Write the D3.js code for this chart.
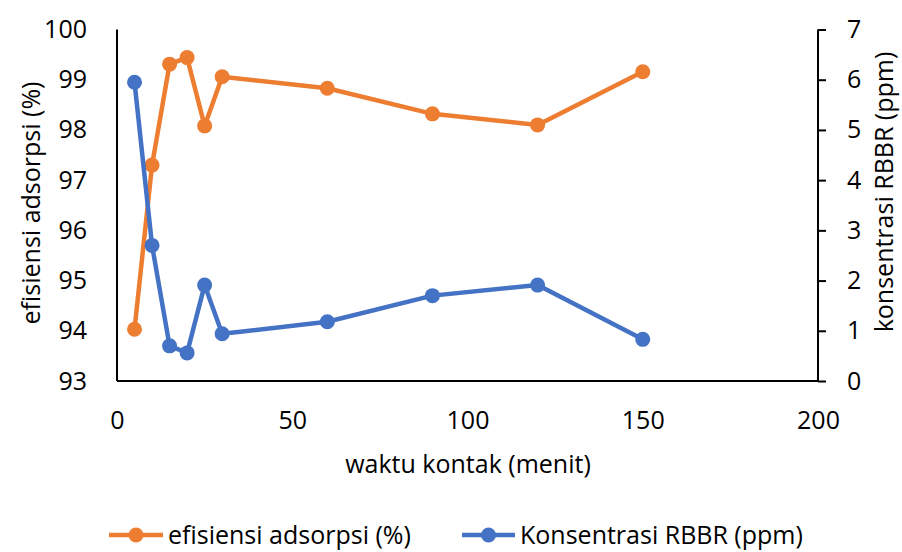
<!DOCTYPE html>
<html>
<head>
<meta charset="utf-8">
<script src="https://cdn.jsdelivr.net/npm/d3@7"></script>
<style>
  html, body { margin: 0; padding: 0; background: #fff; }
  svg { display: block; }
  text { font-family: "Open Sans", "Noto Sans", sans-serif; fill: #000; }
</style>
</head>
<body>
<svg id="chart" width="902" height="552"></svg>
<script>
const waktu = [5, 10, 15, 20, 25, 30, 60, 90, 120, 150];
const efisiensi = [94.03, 97.30, 99.31, 99.44, 98.08, 99.06, 98.83, 98.32, 98.10, 99.16];
const konsentrasi = [5.95, 2.70, 0.70, 0.56, 1.91, 0.94, 1.18, 1.70, 1.91, 0.83];
const xTicks = [0, 50, 100, 150, 200];
const leftTicks = [93, 94, 95, 96, 97, 98, 99, 100];
const rightTicks = [0, 1, 2, 3, 4, 5, 6, 7];
const seriesNames = ["efisiensi adsorpsi (%)", "Konsentrasi RBBR (ppm)"];
const seriesColors = ["#ED7D31", "#4472C4"];
const xTitle = "waktu kontak (menit)";
const leftTitle = "efisiensi adsorpsi (%)";
const rightTitle = "konsentrasi RBBR (ppm)";

const svg = d3.select("#chart");
const L = 117, R = 818, T = 29.5, B = 381;
const fs = 25;
const fmt = d3.format("d");

const x = d3.scaleLinear().domain([0, 200]).range([L, R]);
const yL = d3.scaleLinear().domain([93, 100]).range([B, T]);
const yR = d3.scaleLinear().domain([0, 7]).range([B, T]);

// axes
const axL = svg.append("g").attr("transform", `translate(${L},0)`)
  .call(d3.axisLeft(yL).tickValues(leftTicks).tickFormat(fmt).tickSize(0).tickPadding(30));
const axR = svg.append("g").attr("transform", `translate(${R},0)`)
  .call(d3.axisRight(yR).tickValues(rightTicks).tickFormat(fmt).tickSize(8).tickPadding(21));
const axB = svg.append("g").attr("transform", `translate(0,${B})`)
  .call(d3.axisBottom(x).tickValues(xTicks).tickFormat(fmt).tickSize(0).tickPadding(30));
[axL, axR, axB].forEach(g => {
  g.select(".domain").attr("stroke", "#000").attr("stroke-width", 2);
  g.selectAll(".tick line").attr("stroke", "#000").attr("stroke-width", 2);
  g.selectAll("text").style("font-size", fs + "px").style("font-family", '"Open Sans", sans-serif').attr("fill", "#000");
});
axL.select(".domain").attr("d", `M0,${T}V${B}`);
axR.select(".domain").attr("d", `M0,${T}V${B}`);
axB.select(".domain").attr("d", `M${L},0H${R}`);

// series
const data0 = waktu.map((w, i) => [w, efisiensi[i]]);
const data1 = waktu.map((w, i) => [w, konsentrasi[i]]);
const lineL = d3.line().x(d => x(d[0])).y(d => yL(d[1]));
const lineR = d3.line().x(d => x(d[0])).y(d => yR(d[1]));

function drawSeries(data, line, ys, color) {
  svg.append("path").datum(data).attr("d", line)
    .attr("fill", "none").attr("stroke", color).attr("stroke-width", 4.5)
    .attr("stroke-linejoin", "round");
  svg.append("g").selectAll("circle").data(data).join("circle")
    .attr("cx", d => x(d[0])).attr("cy", d => ys(d[1])).attr("r", 7.5)
    .attr("fill", color);
}
drawSeries(data0, lineL, yL, seriesColors[0]);
drawSeries(data1, lineR, yR, seriesColors[1]);

// titles
svg.append("text").attr("x", 468).attr("y", 473).attr("text-anchor", "middle")
  .style("font-size", fs + "px").text(xTitle);
svg.append("text").attr("transform", `translate(40,203) rotate(-90)`)
  .attr("text-anchor", "middle").style("font-size", fs + "px").text(leftTitle);
svg.append("text").attr("transform", `translate(893,192) rotate(-90)`)
  .attr("text-anchor", "middle").style("font-size", fs + "px").text(rightTitle);

// legend
const legY = 535;
const legItems = [
  { x0: 109, x1: 163, text: 168 },
  { x0: 462, x1: 515, text: 520 }
];
legItems.forEach((it, i) => {
  const g = svg.append("g");
  g.append("line").attr("x1", it.x0).attr("x2", it.x1).attr("y1", legY).attr("y2", legY)
    .attr("stroke", seriesColors[i]).attr("stroke-width", 4.5);
  g.append("circle").attr("cx", (it.x0 + it.x1) / 2).attr("cy", legY).attr("r", 7.5)
    .attr("fill", seriesColors[i]);
  g.append("text").attr("x", it.text).attr("y", legY).attr("dy", "0.35em")
    .style("font-size", fs + "px").text(seriesNames[i]);
});
</script>
</body>
</html>
